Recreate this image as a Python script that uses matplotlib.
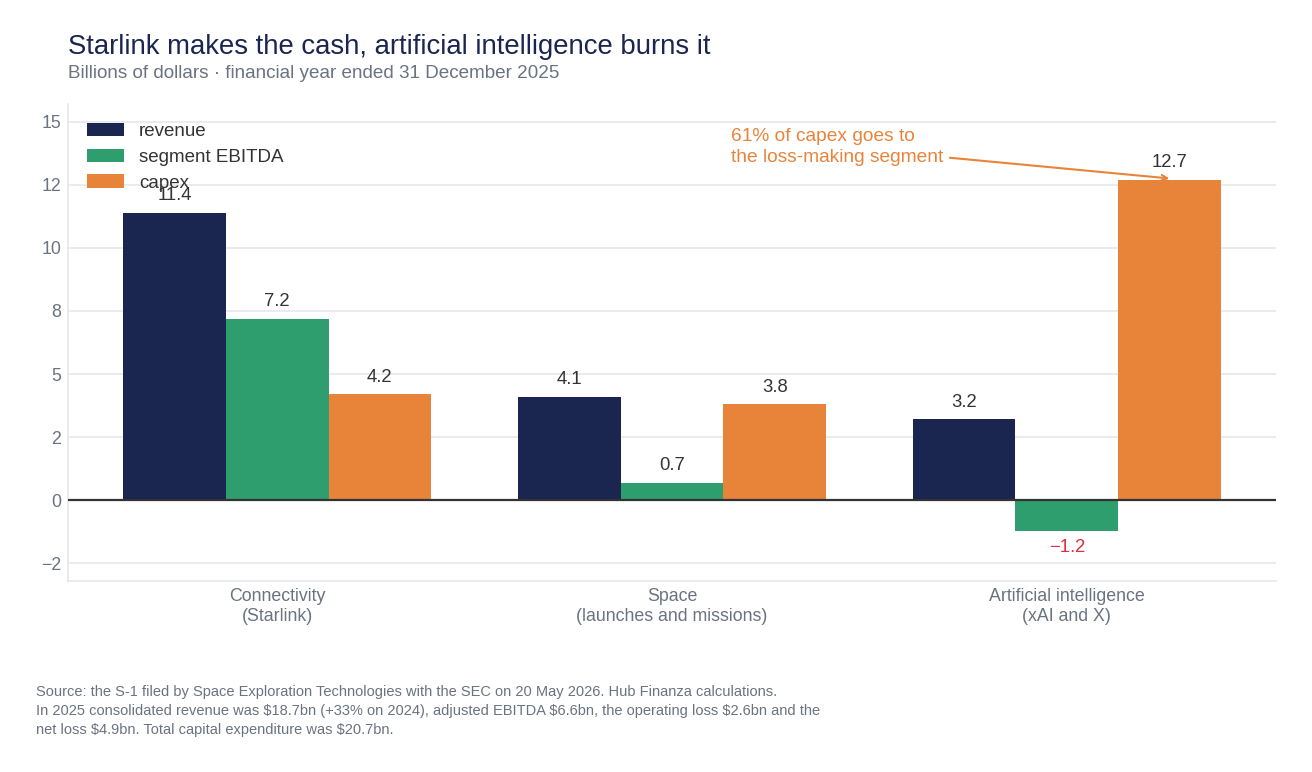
import numpy as np
import matplotlib.pyplot as plt

plt.rcParams['font.family'] = ['Liberation Sans', 'DejaVu Sans']

categories = ["Connectivity\n(Starlink)", "Space\n(launches and missions)", "Artificial intelligence\n(xAI and X)"]
series = ["revenue", "segment EBITDA", "capex"]
revenue = [11.4, 4.1, 3.2]
ebitda = [7.2, 0.7, -1.2]
capex = [4.2, 3.8, 12.7]
yticks = [-2.5, 0, 2.5, 5, 7.5, 10, 12.5, 15]

navy = "#1a2550"
green = "#2e9e6e"
orange = "#e8843a"
grey = "#6b7280"
dark = "#333333"
red = "#dc2f3c"

fig = plt.figure(figsize=(13.12, 7.72), dpi=100)
ax = fig.add_axes([68/1312, 1-581/772, (1276-68)/1312, (581-104)/772])

x = np.arange(len(categories))
w = 0.26
for i, (vals, col) in enumerate(zip([revenue, ebitda, capex], [navy, green, orange])):
    xs = x + (i - 1) * w
    ax.bar(xs, vals, width=w, color=col, label=series[i], zorder=3)
    for xi, v in zip(xs, vals):
        if v >= 0:
            ax.annotate(f"{v:.1f}", (xi, v), xytext=(0, 6), textcoords="offset points",
                        ha="center", va="bottom", fontsize=13.3, color=dark)
        else:
            ax.annotate(f"{v:.1f}".replace("-", "\u2212"), (xi, v), xytext=(0, -6),
                        textcoords="offset points", ha="center", va="top", fontsize=13.3, color=red)

ax.set_xlim(-0.53, 2.53)
ax.set_ylim(-3.2, 15.7)
ax.set_yticks(yticks)
ax.set_yticklabels([f"{t:.0f}".replace("-", "\u2212") for t in yticks])
ax.set_xticks(x)
ax.set_xticklabels(categories)
ax.tick_params(axis="both", length=0, labelsize=12.8, labelcolor=grey)
ax.tick_params(axis="y", pad=5)
ax.tick_params(axis="x", pad=5)
ax.grid(axis="y", color="#e5e7eb", lw=1.2, zorder=0)
ax.axhline(0, color=dark, lw=1.6, zorder=4)
for s in ["top", "right"]:
    ax.spines[s].set_visible(False)
for s in ["left", "bottom"]:
    ax.spines[s].set_color("#e5e7eb")
    ax.spines[s].set_linewidth(1.2)

leg = ax.legend(loc="upper left", bbox_to_anchor=(0.0, 1.0), frameon=False, fontsize=13.5,
                handlelength=2.0, handleheight=0.75, labelspacing=0.45, handletextpad=0.8,
                borderaxespad=0.6)
for t in leg.get_texts():
    t.set_color(dark)

# annotation on AI capex
ax.text(1.149, 14.0, "61% of capex goes to\nthe loss-making segment", color=orange,
        fontsize=13.8, ha="left", va="center", linespacing=1.3)
ax.annotate("", xy=(2.26, 12.75), xytext=(1.704, 13.57),
            arrowprops=dict(arrowstyle="->", color=orange, lw=1.5, shrinkA=0, shrinkB=0))

fig.text(68/1312, 1-47/772, "Starlink makes the cash, artificial intelligence burns it",
         fontsize=19.8, color=navy, ha="left", va="center")
fig.text(68/1312, 1-73/772, "Billions of dollars \u00b7 financial year ended 31 December 2025",
         fontsize=13.6, color=grey, ha="left", va="center")
fig.text(36/1312, 1-711/772,
         "Source: the S-1 filed by Space Exploration Technologies with the SEC on 20 May 2026. Hub Finanza calculations.\n"
         "In 2025 consolidated revenue was \\$18.7bn (+33% on 2024), adjusted EBITDA \\$6.6bn, the operating loss \\$2.6bn and the\n"
         "net loss \\$4.9bn. Total capital expenditure was \\$20.7bn.",
         fontsize=10.5, color=grey, ha="left", va="center", linespacing=1.45)

fig.savefig("out.png", dpi=100)
